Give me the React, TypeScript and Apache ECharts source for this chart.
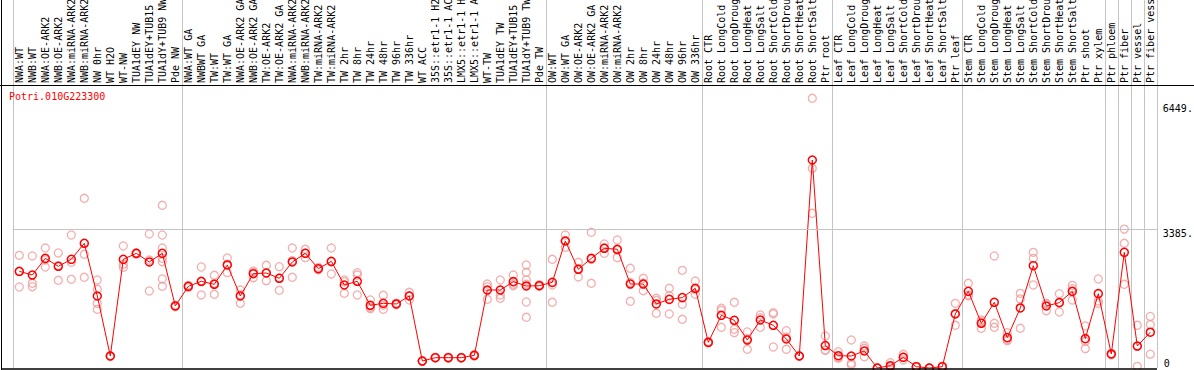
import React, { useEffect, useRef } from 'react';
import * as echarts from 'echarts';

const geneId = 'Potri.010G223300';

const categories = [
  'NWA:WT', 'NWB:WT', 'NWA:OE-ARK2', 'NWB:OE-ARK2', 'NWA:miRNA-ARK2', 'NWB:miRNA-ARK2',
  'NW 0hr', 'WT H2O', 'WT-NW', 'TUA1dEY NW', 'TUA1dEY+TUB15 NW', 'TUA1dY+TUB9 NW', 'Pde NW',
  'NWA:WT GA', 'NWBWT GA', 'TW:WT', 'TW:WT GA', 'NWA:OE-ARK2 GA', 'NWB:OE-ARK2 GA',
  'TW:OE-ARK2', 'TW:OE-ARK2 GA', 'NWA:miRNA-ARK2 GA', 'NWB:miRNA-ARK2 GA', 'TW:miRNA-ARK2',
  'TW:miRNA-ARK2 GA', 'TW 2hr', 'TW 8hr', 'TW 24hr', 'TW 48hr', 'TW 96hr', 'TW 336hr',
  'WT ACC', '35S::etr1-1 H2O', '35S::etr1-1 ACC', 'LMX5::etr1-1 H2O', 'LMX5::etr1-1 ACC',
  'WT-TW', 'TUA1dEY TW', 'TUA1dEY+TUB15 TW', 'TUA1dY+TUB9 TW', 'Pde TW',
  'OW:WT', 'OW:WT GA', 'OW:OE-ARK2', 'OW:OE-ARK2 GA', 'OW:miRNA-ARK2', 'OW:miRNA-ARK2 GA',
  'OW 2hr', 'OW 8hr', 'OW 24hr', 'OW 48hr', 'OW 96hr', 'OW 336hr',
  'Root CTR', 'Root LongCold', 'Root LongDrought', 'Root LongHeat', 'Root LongSalt',
  'Root ShortCold', 'Root ShortDrought', 'Root ShortHeat', 'Root ShortSalt', 'Ptr root',
  'Leaf CTR', 'Leaf LongCold', 'Leaf LongDrought', 'Leaf LongHeat', 'Leaf LongSalt',
  'Leaf ShortCold', 'Leaf ShortDrought', 'Leaf ShortHeat', 'Leaf ShortSalt', 'Ptr leaf',
  'Stem CTR', 'Stem LongCold', 'Stem LongDrought', 'Stem LongHeat', 'Stem LongSalt',
  'Stem ShortCold', 'Stem ShortDrought', 'Stem ShortHeat', 'Stem ShortSalt', 'Ptr shoot',
  'Ptr xylem', 'Ptr phloem', 'Ptr fiber', 'Ptr vessel', 'Ptr fiber vessel',
];

const means = [
  2353, 2263, 2669, 2475, 2645, 3035, 1752, 292, 2645, 2791, 2580, 2791, 1509,
  1988, 2110, 2037, 2507, 1752, 2295, 2312, 2183, 2580, 2791, 2417, 2596, 2020,
  2110, 1526, 1574, 1558, 1752, 170, 251, 251, 251, 308, 1898, 1898, 2101, 1996, 2003,
  2085, 3091, 2402, 2669, 2913, 2889, 2044, 2044, 1558, 1671, 1712, 1940,
  625, 1282, 1161, 681, 1168, 1039, 706, 292, 5062, 547,
  299, 292, 414, 0, 56, 260, 32, 0, 32, 1314,
  1866, 1088, 1599, 739, 1461, 2490, 1509, 1590, 1866, 714,
  1809, 341, 2815, 535, 871,
];

const replicates = [
  [2742, 2346, 1971], [2726, 2061, 1979], [2920, 2630, 2458], [2799, 2490, 2134],
  [3237, 2572, 2158], [4130, 2767, 2207], [2142, 1915, 1574, 1428], [300, 280, 295],
  [2969, 2524, 2450], [2800, 2770, 2800], [3261, 2628, 1874],
  [3960, 3237, 2920, 2669, 2587, 2166, 1988], [1530, 1490, 1505],
  [2010, 1960, 1990], [2458, 2095, 1777], [2256, 2060, 1794], [2677, 2524, 2320],
  [1898, 1785, 1574], [2361, 2326, 2198], [2499, 2312, 2125], [2466, 2192, 1891],
  [2920, 2613, 2207], [2889, 2800, 2685], [2450, 2410, 2390], [2920, 2580, 2288],
  [2142, 2100, 1817], [2320, 2263, 1777], [1655, 1480, 1444], [1769, 1525, 1428],
  [1580, 1555, 1540], [1842, 1760, 1655], [175, 165, 170], [260, 245, 250],
  [265, 240, 250], [255, 250, 245], [330, 300, 295], [2044, 1980, 1671],
  [2142, 1777, 1696], [2263, 2040, 2003], [2507, 2329, 2142, 2040, 1606, 1234],
  [2030, 1990, 2003],
  [2645, 2020, 1599], [3237, 3099, 2937], [2572, 2420, 2215], [3302, 2644, 2061],
  [3018, 2930, 2791], [3115, 2867, 2685], [2426, 2083, 1623], [2183, 2068, 1881],
  [1696, 1647, 1331], [1940, 1760, 1314], [2377, 1550, 1185], [2117, 1909, 1794],
  [640, 610, 625], [1453, 1403, 990], [1599, 942, 860], [876, 712, 455],
  [1290, 1224, 990], [1346, 1314, 511], [908, 755, 455], [300, 285, 292],
  [6564, 4860, 3765], [779, 438, 430],
  [397, 260, 240], [681, 114, 73], [535, 479, 274], [0, 0, 0], [129, 40, 0],
  [333, 260, 195], [40, 30, 25], [0, 0, 0], [40, 30, 25], [1574, 1330, 1039],
  [2061, 1777, 1760], [1168, 1130, 966], [2726, 1088, 990], [860, 692, 665],
  [1817, 1680, 966], [2815, 2669, 2020], [1574, 1558, 1395], [1809, 1600, 1363],
  [2012, 1930, 1655], [1022, 650, 471],
  [2166, 1631, 1574], [350, 333, 320], [3380, 3035, 2037], [1039, 527, 40],
  [1255, 1055, 337],
];

const yTickLabels = [3385, 6449];
const yZeroLabel = [0];
const refLine = 3385;
const groupStarts = [0, 13, 41, 53, 63, 73, 84, 85, 86, 87];
const yAxisMax = 8956;

const mono = 'DejaVu Sans Mono';

export default function App() {
  const ref = useRef<HTMLDivElement>(null);

  useEffect(() => {
    document.body.style.margin = '0';
    const chart = echarts.init(ref.current!, null, { renderer: 'svg' });
    const scatterData = replicates.flatMap((reps, i) => reps.map((v) => [i, v]));

    chart.setOption({
      animation: false,
      backgroundColor: '#ffffff',
      title: {
        text: geneId,
        left: 9,
        top: 91,
        padding: 0,
        textStyle: { color: '#ff0000', fontSize: 10, fontFamily: mono, fontWeight: 'normal' },
      },
      grid: {
        left: 12.8,
        width: 1144,
        top: 0,
        height: 368,
        containLabel: false,
        outerBoundsMode: 'none',
      },
      xAxis: {
        type: 'category',
        data: categories,
        position: 'top',
        offset: -85,
        boundaryGap: true,
        axisLine: { show: false },
        axisTick: { show: false },
        axisLabel: {
          interval: 0,
          rotate: 90,
          margin: 2,
          fontSize: 10,
          fontFamily: mono,
          color: '#000000',
        },
        splitLine: {
          show: true,
          interval: (idx: number) => groupStarts.includes(idx),
          lineStyle: { color: '#c4c4c4', width: 1 },
        },
      },
      yAxis: [
        {
          type: 'value',
          min: 0,
          max: yAxisMax,
          position: 'right',
          axisLine: { show: false },
          axisTick: { show: false },
          splitLine: { show: false },
          axisLabel: {
            customValues: yTickLabels,
            formatter: (v: number) => `${v}.`,
            verticalAlign: 'top',
            align: 'left',
            margin: 6,
            fontSize: 10,
            fontFamily: mono,
            color: '#000000',
          },
        },
        {
          type: 'value',
          min: 0,
          max: yAxisMax,
          position: 'right',
          axisLine: { show: false },
          axisTick: { show: false },
          splitLine: { show: false },
          axisLabel: {
            customValues: yZeroLabel,
            formatter: (v: number) => `${v}`,
            verticalAlign: 'bottom',
            align: 'left',
            margin: 7,
            fontSize: 10,
            fontFamily: mono,
            color: '#000000',
          },
        },
      ],
      graphic: [
        { type: 'line', shape: { x1: 0, y1: 85.5, x2: 1194, y2: 85.5 }, style: { stroke: '#000', lineWidth: 1 }, z: 100 },
        { type: 'line', shape: { x1: 1.5, y1: 0, x2: 1.5, y2: 370 }, style: { stroke: '#000', lineWidth: 1 }, z: 100 },
        { type: 'line', shape: { x1: 1, y1: 369, x2: 1157, y2: 369 }, style: { stroke: '#000', lineWidth: 1.5 }, z: 100 },
      ],
      series: [
        {
          type: 'scatter',
          data: scatterData,
          symbol: 'circle',
          symbolSize: 8,
          itemStyle: { color: 'rgba(255,255,255,0)', borderColor: '#f09a9a', borderWidth: 1.3 },
          silent: true,
          z: 2,
        },
        {
          type: 'line',
          data: means,
          symbol: 'circle',
          symbolSize: 8,
          showSymbol: true,
          showAllSymbol: true,
          itemStyle: { color: 'rgba(255,255,255,0)', borderColor: '#ff0000', borderWidth: 1.5 },
          lineStyle: { color: '#ff0000', width: 1 },
          silent: true,
          z: 3,
          markLine: {
            silent: true,
            symbol: 'none',
            label: { show: false },
            lineStyle: { color: '#c4c4c4', type: 'solid', width: 1 },
            data: [{ yAxis: refLine }],
          },
        },
      ],
    });

    return () => chart.dispose();
  }, []);

  return <div ref={ref} style={{ width: 1194, height: 370 }} />;
}
